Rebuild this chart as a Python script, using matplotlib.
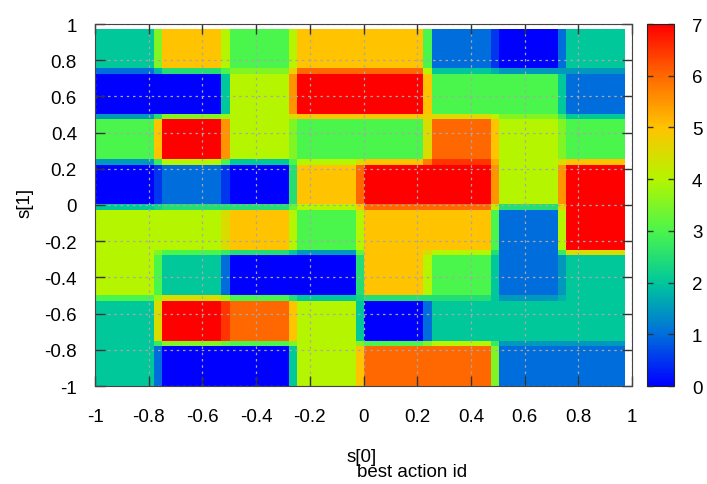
import numpy as np
import matplotlib
matplotlib.use('Agg')
import matplotlib.pyplot as plt
from matplotlib.colors import LinearSegmentedColormap

plt.rcParams['font.family'] = ['Liberation Sans', 'DejaVu Sans']
plt.rcParams['font.size'] = 13.5

# лучшее действие для каждой клетки 8x8 (строки сверху вниз, s[1] от 1 к -1)
best_action = [
    [2, 5, 3, 5, 5, 1, 0, 2],
    [0, 0, 4, 7, 7, 3, 3, 1],
    [3, 7, 4, 3, 3, 6, 4, 3],
    [0, 1, 0, 5, 7, 7, 4, 7],
    [4, 4, 5, 3, 5, 5, 1, 7],
    [4, 2, 0, 0, 5, 3, 1, 2],
    [2, 7, 6, 4, 0, 2, 2, 2],
    [2, 0, 0, 4, 6, 6, 1, 1],
]
tick_values = [-1, -0.8, -0.6, -0.4, -0.2, 0, 0.2, 0.4, 0.6, 0.8, 1]
tick_labels = ['-1', '-0.8', '-0.6', '-0.4', '-0.2', '0', '0.2', '0.4', '0.6', '0.8', '1']
cb_ticks = [0, 1, 2, 3, 4, 5, 6, 7]

# палитра как в gnuplot
palette_rgb = [(0, 0, 255), (0, 110, 220), (0, 200, 155), (75, 245, 75),
               (180, 245, 0), (255, 195, 0), (255, 105, 0), (255, 0, 0)]
palette = LinearSegmentedColormap.from_list(
    'act', [tuple(c / 255 for c in col) for col in palette_rgb])

# сетка состояний: 64 точки по каждой оси, по 8 на клетку
n = 64
s = np.linspace(-1, 0.975, n)
cell = np.arange(n) // 8
grid = np.array(best_action)[::-1]          # строка 0 -> s[1] = -1
Z = grid[cell][:, cell].astype(float)
# цвет четырёхугольника = среднее по углам (pm3d)
C = (Z[:-1, :-1] + Z[1:, :-1] + Z[:-1, 1:] + Z[1:, 1:]) / 4

fig = plt.figure(figsize=(7.07, 4.85), dpi=100)
ax = fig.add_axes([95 / 707, 1 - 387 / 485, 537 / 707, 362 / 485])
mesh = ax.pcolormesh(s, s, C, cmap=palette, vmin=0, vmax=7, shading='flat')

ax.set_xlim(-1, 1)
ax.set_ylim(-1, 1)
ax.set_xticks(tick_values)
ax.set_xticklabels(tick_labels)
ax.set_yticks(tick_values)
ax.set_yticklabels(tick_labels)
ax.tick_params(direction='in', length=7, width=1, top=True, right=True,
               color='#333333')
ax.tick_params(axis='x', pad=15.5)
ax.tick_params(axis='y', pad=13)
ax.grid(True, color='#a8a8a8', linestyle=(0, (2, 3)), linewidth=0.9)
ax.set_axisbelow(False)
for sp in ax.spines.values():
    sp.set_color('#444444')
    sp.set_zorder(5)

cax = fig.add_axes([647 / 707, 1 - 387 / 485, 27 / 707, 362 / 485])
cb = fig.colorbar(mesh, cax=cax, ticks=cb_ticks)
cb.ax.tick_params(direction='in', length=4, width=1, left=True, right=True,
                  pad=13, color='#333333')
cb.outline.set_edgecolor('#222222')

fig.text(362 / 707, 1 - 458 / 485, 's[0]', ha='center', va='center')
fig.text(357 / 707, 1 - 473 / 485, 'best action id', ha='left', va='center')
fig.text(25 / 707, 1 - 203 / 485, 's[1]', ha='center', va='center', rotation=90)

fig.savefig('out.png', dpi=100)
